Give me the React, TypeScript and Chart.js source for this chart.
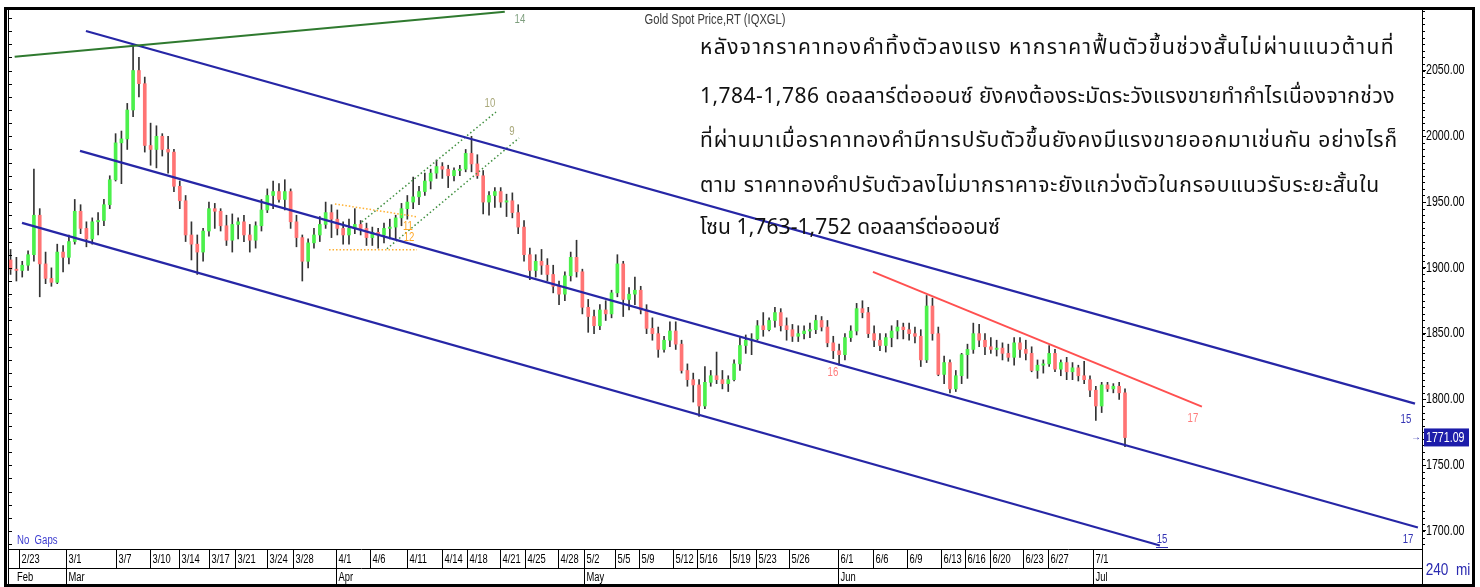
import React, { useEffect, useRef } from 'react';
import { Chart, registerables } from 'chart.js';

Chart.register(...registerables);

// ---- data: 12h bars (2 per trading day), trading-day index 1 = 2022-02-22 ----
const FIRST_DAY = 1;
const BARS_PER_DAY = 2;

const opens = [
  1906,1899, 1898,1902, 1910,1940, 1903,1892, 1889,1912, 1908,1920, 1943,1930, 1922,1935, 1936,1948, 1967,1995,
  1998,2020, 2050,2040, 1993,1990, 2000,1990, 1988,1962, 1951,1925, 1918,1912, 1928,1945, 1943,1932, 1921,1933,
  1935,1925, 1921,1932, 1944,1955, 1958,1952, 1958,1935, 1923,1905, 1919,1925, 1933,1942, 1937,1930, 1925,1930,
  1933,1930, 1923,1927, 1925,1930, 1931,1938, 1945,1950, 1954,1958, 1966,1972, 1977,1975, 1970,1974, 1975,1987,
  1979,1970, 1950,1955, 1958,1950, 1951,1942, 1931,1910, 1898,1905, 1902,1895, 1886,1880, 1894,1908, 1897,1870,
  1863,1856, 1868,1865, 1881,1903, 1876,1880, 1883,1868, 1854,1850, 1838,1845, 1852,1842, 1822,1815, 1811,1795,
  1813,1818, 1815,1812, 1815,1827, 1841,1845, 1846,1856, 1853,1860, 1866,1856, 1853,1848, 1850,1852, 1853,1860,
  1855,1843, 1837,1834, 1847,1852, 1869,1866, 1850,1845, 1841,1847, 1852,1855, 1853,1850, 1848,1830, 1871,1850,
  1819,1828, 1808,1818, 1834,1838, 1850,1845, 1840,1838, 1839,1835, 1832,1843, 1838,1835, 1822,1826, 1827,1835,
  1823,1828, 1821,1824, 1818,1815, 1807,1795, 1811,1808, 1810,1805,
];
const highs = [
  1914,1908, 1905,1913, 1975,1945, 1912,1900, 1918,1917, 1925,1952, 1948,1935, 1938,1942, 1952,1970, 2002,2004,
  2025,2070, 2060,2045, 2010,2008, 2002,2000, 1990,1966, 1955,1935, 1925,1930, 1950,1949, 1945,1940, 1941,1938,
  1940,1933, 1935,1952, 1960,1966, 1964,1967, 1960,1940, 1925,1922, 1930,1939, 1950,1948, 1944,1935, 1937,1945,
  1936,1934, 1931,1930, 1934,1937, 1940,1949, 1955,1969, 1962,1972, 1975,1982, 1980,1978, 1976,1978, 1990,2000,
  1986,1974, 1958,1961, 1961,1956, 1957,1948, 1936,1915, 1910,1914, 1907,1902, 1890,1897, 1912,1921, 1899,1876,
  1868,1872, 1875,1883, 1910,1905, 1885,1893, 1886,1872, 1862,1855, 1848,1859, 1859,1845, 1827,1820, 1815,1825,
  1822,1836, 1822,1818, 1830,1847, 1849,1850, 1860,1866, 1862,1870, 1869,1862, 1857,1856, 1856,1858, 1864,1863,
  1860,1848, 1842,1850, 1856,1873, 1875,1870, 1856,1850, 1850,1856, 1860,1858, 1858,1855, 1853,1879, 1877,1855,
  1833,1830, 1822,1835, 1842,1858, 1857,1850, 1847,1845, 1843,1842, 1847,1847, 1845,1840, 1830,1830, 1841,1838,
  1830,1832, 1828,1826, 1829,1818, 1810,1813, 1813,1812, 1813,1808,
];
const lows = [
  1895,1890, 1893,1898, 1905,1878, 1888,1886, 1888,1897, 1903,1918, 1926,1916, 1918,1925, 1932,1945, 1966,1964,
  1990,2015, 2030,1988, 1978,1976, 1985,1972, 1958,1945, 1920,1906, 1895,1905, 1924,1930, 1928,1917, 1912,1922,
  1920,1912, 1915,1928, 1942,1945, 1950,1944, 1930,1916, 1890,1900, 1915,1920, 1930,1923, 1925,1918, 1918,1926,
  1925,1917, 1917,1915, 1919,1922, 1922,1932, 1937,1945, 1948,1955, 1960,1968, 1968,1961, 1966,1970, 1973,1973,
  1968,1941, 1940,1946, 1946,1939, 1938,1926, 1905,1891, 1893,1895, 1890,1881, 1872,1875, 1890,1893, 1865,1851,
  1850,1853, 1860,1862, 1878,1863, 1868,1872, 1865,1850, 1845,1832, 1836,1840, 1838,1820, 1810,1798, 1787,1793,
  1810,1812, 1808,1806, 1814,1822, 1835,1834, 1845,1848, 1852,1855, 1852,1845, 1844,1844, 1846,1847, 1850,1852,
  1840,1831, 1826,1830, 1844,1849, 1862,1847, 1840,1837, 1836,1840, 1846,1846, 1845,1843, 1825,1828, 1845,1818,
  1812,1805, 1806,1812, 1816,1835, 1840,1834, 1835,1833, 1830,1829, 1826,1832, 1830,1821, 1816,1820, 1825,1821,
  1818,1815, 1815,1814, 1812,1802, 1784,1790, 1806,1805, 1800,1764,
];
const closes = [
  1899,1898, 1902,1910, 1940,1903, 1892,1889, 1912,1908, 1920,1943, 1930,1922, 1935,1936, 1948,1967, 1995,1998,
  2020,2050, 2040,1993, 1990,2000, 1990,1988, 1962,1951, 1925,1918, 1912,1928, 1945,1943, 1932,1921, 1933,1935,
  1925,1921, 1932,1944, 1955,1958, 1952,1958, 1935,1923, 1905,1919, 1925,1933, 1942,1937, 1930,1925, 1930,1933,
  1930,1923, 1927,1925, 1930,1931, 1938,1945, 1950,1954, 1958,1966, 1972,1977, 1975,1970, 1974,1975, 1987,1979,
  1970,1950, 1955,1958, 1950,1951, 1942,1931, 1910,1898, 1905,1902, 1895,1886, 1880,1894, 1908,1897, 1870,1863,
  1856,1868, 1865,1881, 1903,1876, 1880,1883, 1868,1854, 1850,1838, 1845,1852, 1842,1822, 1815,1811, 1795,1813,
  1818,1815, 1812,1815, 1827,1841, 1845,1846, 1856,1853, 1860,1866, 1856,1853, 1848,1850, 1852,1853, 1860,1855,
  1843,1837, 1834,1847, 1852,1869, 1866,1850, 1845,1841, 1847,1852, 1855,1853, 1850,1848, 1830,1871, 1850,1819,
  1828,1808, 1818,1834, 1838,1850, 1845,1840, 1838,1839, 1835,1832, 1843,1838, 1835,1822, 1826,1827, 1835,1823,
  1828,1821, 1824,1818, 1815,1807, 1795,1811, 1808,1810, 1805,1771,
];

// date axis (trading-day index of the first bar of that date)
const dateTickLabels = ['2/23','3/1','3/7','3/10','3/14','3/17','3/21','3/24','3/28','4/1','4/6','4/11','4/14','4/18','4/21','4/25','4/28','5/2','5/5','5/9','5/12','5/16','5/19','5/23','5/26','6/1','6/6','6/9','6/13','6/16','6/20','6/23','6/27','7/1'];
const dateTickDays = [1.96,6,10.25,13.2,15.68,18.25,20.44,23.19,25.45,29.18,32.09,35.2,38.19,40.36,43.19,45.33,48.16,50.37,53.04,55.14,58.01,60.11,62.94,65.17,67.99,72.13,75.19,78.03,80.94,83.08,85.17,88.0,90.12,94.0];
const monthLabels = ['Mar','Apr','May','Jun','Jul'];
const monthDays = [6,29.18,50.37,72.13,94.0];

// trend lines (day index, price)
const greenLine = [{ x: 1.6, y: 2060.5 }, { x: 43.6, y: 2094.7 }];
const channelTop = [{ x: 7.71, y: 2080.0 }, { x: 121.6, y: 1796.8 }];
const channelMid = [{ x: 7.2, y: 1988.9 }, { x: 121.85, y: 1702.6 }];
const channelLow = [{ x: 2.23, y: 1934.2 }, { x: 99.74, y: 1689.0 }];
const redLine = [{ x: 75.15, y: 1897.0 }, { x: 103.34, y: 1794.5 }];
const dottedUpper = [{ x: 31.36, y: 1935.0 }, { x: 42.85, y: 2018.5 }];
const dottedLower = [{ x: 33.5, y: 1914.5 }, { x: 44.82, y: 1998.7 }];
const orangeUpper = [{ x: 29.05, y: 1948.6 }, { x: 36.08, y: 1938.8 }];
const orangeLower = [{ x: 28.54, y: 1913.7 }, { x: 36.08, y: 1913.7 }];

// annotation labels (text, day index, price, colour)
const noteTexts = ['14', '10', '9', '11', '12', '16', '17', '15', '17', '15'];
const noteDays = [44.9, 42.33, 44.22, 35.3, 35.39, 71.72, 102.57, 120.82, 121.0, 99.92];
const notePrices = [2088.3, 2024.6, 2003.3, 1931.2, 1922.8, 1820.3, 1785.4, 1784.6, 1693.5, 1693.5];
const noteColors = ['#7f9f7f', '#a9a87a', '#a9a87a', '#ffa522', '#ffa522', '#ff7b7b', '#ff7b7b', '#3434b4', '#3434b4', '#3434b4'];

const lastPrice = 1771.09;

const thaiLines = [
  'หลังจากราคาทองคำทิ้งตัวลงแรง หากราคาฟื้นตัวขึ้นช่วงสั้นไม่ผ่านแนวต้านที่',
  '1,784-1,786 ดอลลาร์ต่อออนซ์ ยังคงต้องระมัดระวังแรงขายทำกำไรเนื่องจากช่วง',
  'ที่ผ่านมาเมื่อราคาทองคำมีการปรับตัวขึ้นยังคงมีแรงขายออกมาเช่นกัน อย่างไรก็',
  'ตาม ราคาทองคำปรับตัวลงไม่มากราคาจะยังแกว่งตัวในกรอบแนวรับระยะสั้นใน',
  'โซน 1,763-1,752 ดอลลาร์ต่อออนซ์',
];

const SANS = "'Liberation Sans', Arial, sans-serif";
const UP = '#4cf04c';
const DOWN = '#ff7474';
const WICK = '#333333';
const BLUE = '#2626a6';

function narrowText(ctx: CanvasRenderingContext2D, text: string, x: number, y: number, size: number, color: string, align: CanvasTextAlign = 'left', sx = 0.8) {
  ctx.save();
  ctx.translate(x, y);
  ctx.scale(sx, 1);
  ctx.font = `${size}px ${SANS}`;
  ctx.fillStyle = color;
  ctx.textAlign = align;
  ctx.textBaseline = 'middle';
  ctx.fillText(text, 0, 0);
  ctx.restore();
}

const overlay = {
  id: 'overlay',
  afterDraw(chart: any) {
    const { ctx, chartArea: ca, scales } = chart;
    const xs = scales.x;
    const ys = scales.y;
    const W = chart.width;
    const H = chart.height;
    const hl = (x1: number, x2: number, y: number) => { ctx.beginPath(); ctx.moveTo(x1, y); ctx.lineTo(x2, y); ctx.stroke(); };
    const vl = (x: number, y1: number, y2: number) => { ctx.beginPath(); ctx.moveTo(x, y1); ctx.lineTo(x, y2); ctx.stroke(); };
    ctx.save();
    ctx.strokeStyle = '#000';
    ctx.lineWidth = 1;
    // left minor ticks
    for (let v = 1690; v <= 2090; v += 10) {
      const y = Math.round(ys.getPixelForValue(v)) + 0.5;
      hl(ca.left, ca.left + 4, y);
    }
    // right minor ticks
    for (let v = 1690; v <= 2095; v += 5) {
      const y = Math.round(ys.getPixelForValue(v)) + 0.5;
      hl(ca.right, ca.right + 3, y);
    }
    // y tick labels from the scale's ticks
    for (const t of ys.ticks) {
      narrowText(ctx, Number(t.value).toFixed(2), ca.right + 4, ys.getPixelForValue(t.value), 14, '#000', 'left', 0.76);
    }
    // title
    narrowText(ctx, 'Gold Spot Price,RT (IQXGL)', (ca.left + ca.right) / 2, 20, 14, '#3b3b3b', 'center', 0.8);
    // notes
    for (let i = 0; i < noteTexts.length; i++) {
      const x = xs.getPixelForValue(noteDays[i]);
      const y = ys.getPixelForValue(notePrices[i]);
      narrowText(ctx, noteTexts[i], x, y, 12, noteColors[i], 'center', 0.8);
      if (i === noteTexts.length - 1) {
        ctx.strokeStyle = noteColors[i];
        hl(x - 6, x + 6, Math.round(y + 7) + 0.5);
        ctx.strokeStyle = '#000';
      }
    }
    // No Gaps
    narrowText(ctx, 'No  Gaps', ca.left + 9, ca.bottom - 8, 12, '#3a3acf', 'left', 0.8);
    // last price marker
    const py = ys.getPixelForValue(lastPrice);
    ctx.fillStyle = '#1c1caa';
    ctx.fillRect(ca.right + 2, py - 9, 45, 18);
    narrowText(ctx, lastPrice.toFixed(2), ca.right + 4, py + 0.5, 14, '#ffffff', 'left', 0.76);
    narrowText(ctx, '→', ca.right - 1, py, 10, '#2a2aaa', 'right', 1);
    // date rows
    const y0 = Math.round(ca.bottom) + 0.5;
    const y1 = 568.5;
    const y2 = H - 2;
    ctx.strokeStyle = '#000';
    ctx.lineWidth = 1;
    hl(ca.left, ca.right, y0);
    hl(ca.left, ca.right, y1);
    for (let i = 0; i < dateTickDays.length; i++) {
      const x = Math.round(xs.getPixelForValue(dateTickDays[i])) + 0.5;
      vl(x, y0, y1);
      narrowText(ctx, dateTickLabels[i], x + 2, (y0 + y1) / 2 + 1, 12, '#000', 'left', 0.78);
    }
    narrowText(ctx, 'Feb', ca.left + 9, (y1 + y2) / 2 + 1, 12, '#000', 'left', 0.78);
    for (let i = 0; i < monthDays.length; i++) {
      const x = Math.round(xs.getPixelForValue(monthDays[i])) + 0.5;
      vl(x, y1, y2);
      narrowText(ctx, monthLabels[i], x + 2, (y1 + y2) / 2 + 1, 12, '#000', 'left', 0.78);
    }
    // right column & pane edge
    vl(Math.round(ca.right) + 0.5, 8, y2);
    vl(ca.left + 0.5, ca.top, y2);
    narrowText(ctx, '240  mi', (ca.right + W - 6) / 2, 570, 17, '#2a2ab0', 'center', 0.8);
    // frame
    ctx.lineWidth = 3;
    ctx.strokeStyle = '#000';
    ctx.strokeRect(5.5, 8.5, W - 12, H - 10);
    ctx.restore();
  },
};

export default function App() {
  const ref = useRef<HTMLCanvasElement>(null);
  const lineRefs = useRef<(HTMLDivElement | null)[]>([]);
  const thaiTops = [33, 82, 126, 171, 213];
  const thaiWidths = [695, 695, 698, 680, 300];

  useEffect(() => {
    const canvas = ref.current;
    if (!canvas) return;
    const times = opens.map((_, i) => FIRST_DAY + (i + 0.5) / BARS_PER_DAY);
    const wickData = times.map((t, i) => ({ x: t, y: [lows[i], highs[i]] }));
    const bodyData = times.map((t, i) => ({ x: t, y: [opens[i], closes[i]] }));
    const bodyColors = opens.map((o, i) => (closes[i] >= o ? UP : DOWN));
    const lineDs = (pts: any[], color: string, width: number, dash: number[] = []) => ({
      type: 'line' as const,
      data: pts,
      borderColor: color,
      borderWidth: width,
      borderDash: dash,
      pointRadius: 0,
      fill: false,
      tension: 0,
      order: 0,
    });
    const chart = new Chart(canvas, {
      type: 'bar',
      data: {
        datasets: [
          { type: 'bar', data: wickData as any, backgroundColor: WICK, barThickness: 1, grouped: false, order: 2 },
          { type: 'bar', data: bodyData as any, backgroundColor: bodyColors, barThickness: 3, grouped: false, minBarLength: 1, order: 1 },
          lineDs(greenLine, '#2f7a2f', 2),
          lineDs(channelTop, BLUE, 2.2),
          lineDs(channelMid, BLUE, 2.2),
          lineDs(channelLow, BLUE, 2.2),
          lineDs(redLine, '#ff5050', 2),
          lineDs(dottedUpper, '#3f8f3f', 1.5, [1.5, 2.5]),
          lineDs(dottedLower, '#3f8f3f', 1.5, [1.5, 2.5]),
          lineDs(orangeUpper, '#ffb030', 1.5, [1.5, 2]),
          lineDs(orangeLower, '#ffb030', 1.5, [1.5, 2]),
        ] as any,
      },
      options: {
        responsive: false,
        animation: false,
        events: [],
        layout: { padding: { left: 8, top: 10, right: 0, bottom: 38 } },
        plugins: { legend: { display: false }, tooltip: { enabled: false }, title: { display: false } },
        scales: {
          x: { type: 'linear', display: false, min: 1.03, max: 122.2, offset: false },
          y: {
            type: 'linear',
            position: 'right',
            min: 1686.3,
            max: 2096,
            afterFit: (s: any) => { s.width = 58; },
            border: { display: true, color: '#000', width: 1 },
            grid: { drawOnChartArea: false, tickLength: 4, color: '#000' },
            ticks: { stepSize: 50, includeBounds: false, display: false },
          },
        },
      } as any,
      plugins: [overlay],
    });

    // stretch each Thai line to the width it has in the picture
    lineRefs.current.forEach((el, i) => {
      if (!el) return;
      el.style.letterSpacing = '0px';
      const w0 = el.getBoundingClientRect().width;
      el.style.letterSpacing = '1px';
      const w1 = el.getBoundingClientRect().width;
      const per = w1 - w0;
      if (per > 0) el.style.letterSpacing = `${(thaiWidths[i] - w0) / per}px`;
      else el.style.letterSpacing = '0px';
    });

    return () => chart.destroy();
  }, []);

  return (
    <div style={{ position: 'absolute', left: 0, top: 0, width: 1480, height: 587, background: '#fff', overflow: 'hidden' }}>
      <canvas ref={ref} width={1480} height={587} style={{ display: 'block', width: 1480, height: 587 }} />
      {thaiLines.map((t, i) => (
        <div
          key={i}
          ref={(el) => { lineRefs.current[i] = el; }}
          style={{
            position: 'absolute',
            left: 700,
            top: thaiTops[i],
            fontSize: 21,
            lineHeight: '30px',
            whiteSpace: 'nowrap',
            color: '#111',
            fontFamily: "'Noto Sans Thai', 'Noto Sans', 'DejaVu Sans', sans-serif",
          }}
        >
          {t}
        </div>
      ))}
    </div>
  );
}
